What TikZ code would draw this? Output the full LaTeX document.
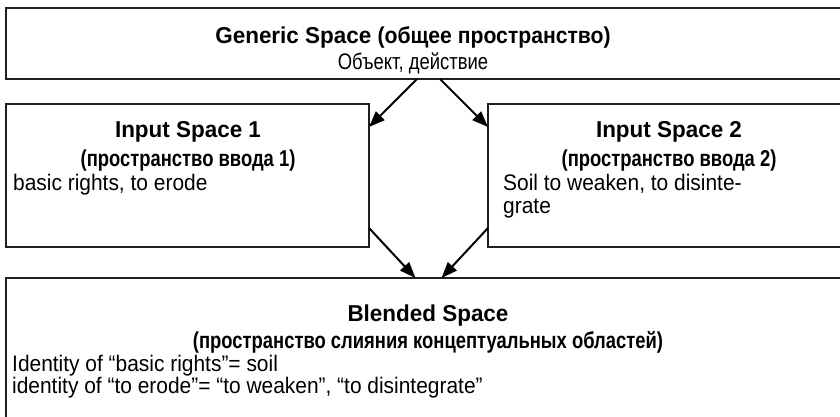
\documentclass[tikz,border=0pt]{standalone}
\usepackage{fontspec}
\setmainfont{Liberation Sans}[FakeStretch=0.976]
% faces of slightly different set widths
\newfontfamily\bodyface{Liberation Sans}[FakeStretch=0.93]
\newfontfamily\ruface{Liberation Sans}[FakeStretch=0.80]
\newfontfamily\rubody{Liberation Sans}[FakeStretch=0.82]
\newfontfamily\ruwide{Liberation Sans}[FakeStretch=0.92]
\usetikzlibrary{arrows.meta}
\tikzset{
  spacebox/.style={draw=black!88, line width=1.6pt, inner sep=0pt, outer sep=0pt},
  headline/.style={anchor=base, inner sep=0pt, font=\fontsize{23}{24}\selectfont\bfseries},
  centerline/.style={anchor=base, inner sep=0pt, font=\fontsize{22.5}{23}\selectfont},
  leftline/.style={anchor=base west, inner sep=0pt, font=\bodyface\fontsize{22.5}{23}\selectfont},
  arr/.style={line width=2pt, -{Triangle[length=16pt,width=12pt]}},
}
\begin{document}
\begin{tikzpicture}[x=1pt,y=-1pt]
\useasboundingbox (0,0) rectangle (840,417);
\clip (0,0) rectangle (840,417);

% the four spaces of the blend
\node[spacebox, minimum width=845pt, minimum height=71pt]  (gen)   at (428.5,43.5) {};
\node[spacebox, minimum width=363pt, minimum height=143pt] (in1)   at (187.5,175.5) {};
\node[spacebox, minimum width=363pt, minimum height=143pt] (in2)   at (669.5,175.5) {};
\node[spacebox, minimum width=845pt, minimum height=152pt] (blend) at (428.5,354) {};

% generic space
\node[headline]   (genT) at (413,44) {Generic Space {\ruwide (общее пространство)}};
\node[centerline] (genB) at (413,70) {\rubody Объект, действие};

% input space 1
\node[headline] (in1T) at (188,137) {Input Space 1};
\node[headline] (in1S) at (188,166) {\ruface (пространство ввода 1)};
\node[leftline] (in1B) at (13,190) {basic rights, to erode};

% input space 2
\node[headline] (in2T) at (669,137) {Input Space 2};
\node[headline] (in2S) at (669,166) {\ruface (пространство ввода 2)};
\node[leftline] (in2B) at (503,190) {Soil to weaken, to disinte-};
\node[leftline] (in2C) at (503,213) {grate};

% blended space
\node[headline] (blT) at (428,321) {Blended Space};
\node[headline] (blS) at (428,348) {\ruface (пространство слияния концептуальных областей)};
\node[leftline] (blA) at (12,371) {Identity of “basic rights”= soil};
\node[leftline] (blB) at (12,393) {identity of “to erode”= “to weaken”, “to disintegrate”};

% projections
\draw[arr] ([xshift=-11.5pt]gen.south) -- ([yshift=-23pt]in1.north east);
\draw[arr] ([xshift=11.5pt]gen.south)  -- ([yshift=-23pt]in2.north west);
\draw[arr] ([yshift=19pt]in1.south east) -- ([xshift=-13pt]blend.north);
\draw[arr] ([yshift=19pt]in2.south west) -- ([xshift=13pt]blend.north);
\end{tikzpicture}
\end{document}
